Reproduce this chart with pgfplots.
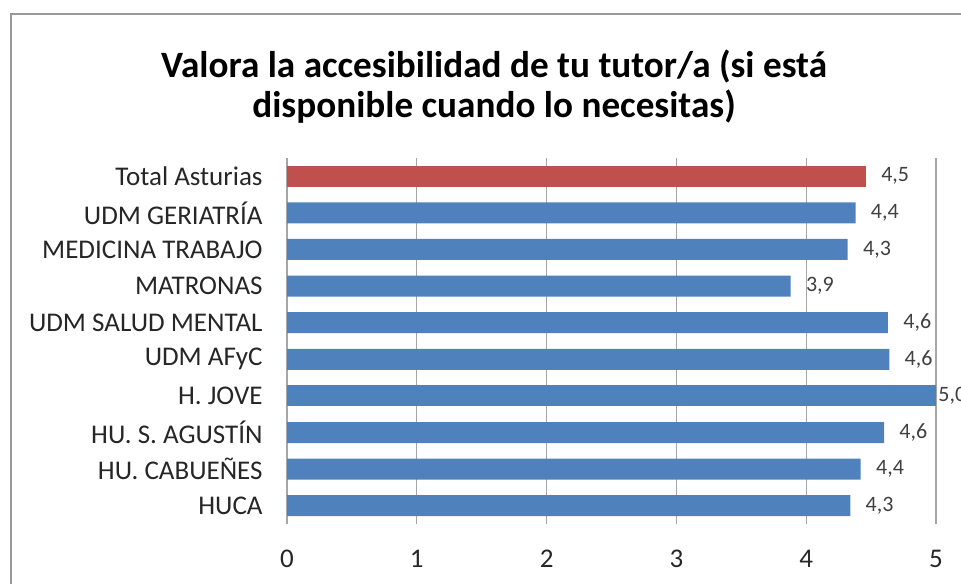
\documentclass[border=0pt]{standalone}
\usepackage{fontspec}
\setmainfont{Carlito}
\usepackage{pgfplots}
\pgfplotsset{compat=1.18}
\definecolor{barblue}{HTML}{4F81BD}
\definecolor{barred}{HTML}{C0504D}
\definecolor{txtgray}{HTML}{404040}
\begin{document}
\begin{tikzpicture}[x=1pt,y=1pt]
\useasboundingbox (0,0) rectangle (480.5,291.5);
% chart frame (only top and left edges are visible)
\draw[gray!80,line width=1pt] (5.5,-2) -- (5.5,284.5) -- (483,284.5);
\node[font=\bfseries\fontsize{18.6}{20}\selectfont, align=center] at (247,248)
  {Valora la accesibilidad de tu tutor/a (si está\\disponible cuando lo necesitas)};
\begin{axis}[
    at={(143.5pt,29.5pt)}, anchor=south west,
    scale only axis,
    width=324.5pt, height=183pt,
    xbar,
    bar width=10.5pt,
    bar shift=0pt,
    xmin=0, xmax=5,
    ymin=-0.5, ymax=9.5,
    axis line style={draw=none},
    xmajorgrids=true,
    grid style={gray!70, line width=0.6pt},
    major tick length=0pt,
    xtick={0,1,2,3,4,5},
    ytick={0,1,2,3,4,5,6,7,8,9},
    yticklabels={HUCA, HU. CABUEÑES, HU. S. AGUSTÍN, H. JOVE, UDM AFyC,
                 UDM SALUD MENTAL, MATRONAS, MEDICINA TRABAJO, UDM GERIATRÍA, Total Asturias},
    /pgf/number format/assume math mode=true,
    ticklabel style={font=\fontsize{13.5}{15}\selectfont, text=black!85},
    xticklabel style={anchor=base, yshift=-21.5pt},
    yticklabel style={anchor=east, xshift=-8.7pt},
    nodes near coords={\pgfmathprintnumber[fixed,fixed zerofill,precision=1,use comma,assume math mode=true]{\pgfplotspointmeta}},
    nodes near coords style={font=\fontsize{11}{12}\selectfont, text=txtgray, anchor=west, inner sep=2pt, xshift=5.5pt},
    point meta=x,
    clip=false,
]
\addplot[draw=none, fill=barblue] coordinates {
    (4.34,0)  % HUCA
    (4.42,1)  % HU. Cabueñes
    (4.60,2)  % HU. S. Agustín
    (4.64,4)  % UDM AFyC
    (4.63,5)  % UDM Salud Mental
    (3.88,6)  % Matronas
    (4.32,7)  % Medicina Trabajo
    (4.38,8)  % UDM Geriatría
};
% H. Jove: label sits right at the bar end (xshift adds up: net -1pt)
\addplot[draw=none, fill=barblue, nodes near coords style={xshift=-6.5pt}] coordinates {
    (5.00,3)  % H. Jove
};
\addplot[draw=none, fill=barred] coordinates {
    (4.46,9)  % Total Asturias
};
\end{axis}
\end{tikzpicture}
\end{document}
